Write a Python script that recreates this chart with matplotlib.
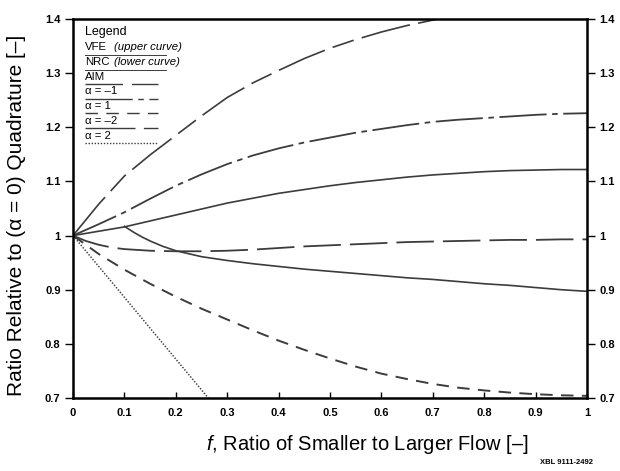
import matplotlib
matplotlib.use('Agg')
import matplotlib.pyplot as plt
from matplotlib.ticker import FormatStrFormatter

plt.rcParams['font.family'] = ['Liberation Sans', 'DejaVu Sans']
plt.rcParams['lines.scale_dashes'] = False
plt.rcParams['mathtext.fontset'] = 'custom'
plt.rcParams['mathtext.it'] = 'Liberation Sans:italic'
plt.rcParams['mathtext.rm'] = 'Liberation Sans'

# values
f_vfe = [0, 0.05, 0.1, 0.15, 0.2, 0.25, 0.3, 0.35, 0.4, 0.45, 0.5, 0.55, 0.6,
         0.65, 0.7, 0.75, 0.8, 0.85, 0.9, 0.95, 1.0]
vfe = [1.0, 1.008, 1.016, 1.027, 1.038, 1.049, 1.06, 1.069, 1.078, 1.085, 1.092,
       1.098, 1.103, 1.108, 1.112, 1.115, 1.118, 1.12, 1.121, 1.122, 1.122]

f_nrc = [0.1, 0.11, 0.12, 0.135, 0.15, 0.175, 0.2, 0.25, 0.3, 0.35, 0.4, 0.45,
         0.5, 0.55, 0.6, 0.65, 0.7, 0.75, 0.8, 0.85, 0.9, 0.95, 1.0]
nrc = [1.017, 1.011, 1.005, 0.997, 0.99, 0.98, 0.972, 0.961, 0.954, 0.948, 0.943,
       0.938, 0.934, 0.93, 0.926, 0.922, 0.919, 0.915, 0.911, 0.908, 0.904, 0.9, 0.897]

f_aim = [0, 0.025, 0.05, 0.075, 0.1, 0.15, 0.2, 0.25, 0.3, 0.35, 0.4, 0.45, 0.5,
         0.55, 0.6, 0.65, 0.7, 0.75, 0.8, 0.85, 0.9, 0.95, 1.0]
aim = [1.0, 0.99, 0.983, 0.978, 0.975, 0.972, 0.971, 0.971, 0.972, 0.974, 0.977,
       0.98, 0.982, 0.984, 0.986, 0.988, 0.989, 0.99, 0.991, 0.992, 0.992, 0.993, 0.993]

f_am1 = [0, 0.05, 0.1, 0.15, 0.2, 0.25, 0.3, 0.35, 0.4, 0.45, 0.5, 0.55, 0.6,
         0.65, 0.7, 0.75, 0.8, 0.85, 0.9, 0.95, 1.0]
am1 = [1.0, 1.021, 1.043, 1.068, 1.092, 1.113, 1.132, 1.148, 1.161, 1.172, 1.181,
       1.19, 1.197, 1.204, 1.21, 1.214, 1.217, 1.22, 1.223, 1.225, 1.226]

f_a1 = [0, 0.05, 0.1, 0.15, 0.2, 0.25, 0.3, 0.35, 0.4, 0.45, 0.5, 0.55, 0.6,
        0.65, 0.7, 0.75, 0.8, 0.85, 0.9, 0.95, 1.0]
a1 = [1.0, 0.966, 0.937, 0.911, 0.887, 0.865, 0.845, 0.825, 0.806, 0.789, 0.773,
      0.758, 0.745, 0.735, 0.726, 0.719, 0.714, 0.71, 0.707, 0.705, 0.704]

f_am2 = [0, 0.05, 0.1, 0.15, 0.2, 0.25, 0.3, 0.35, 0.4, 0.45, 0.5, 0.55, 0.6,
         0.65, 0.7, 0.75]
am2 = [1.0, 1.058, 1.11, 1.149, 1.185, 1.221, 1.255, 1.282, 1.305, 1.327, 1.346,
       1.362, 1.376, 1.388, 1.398, 1.407]

f_a2 = [0, 0.05, 0.1, 0.15, 0.2, 0.25, 0.27]
a2 = [1.0, 0.943, 0.886, 0.829, 0.772, 0.715, 0.692]

xticks = [0, 0.1, 0.2, 0.3, 0.4, 0.5, 0.6, 0.7, 0.8, 0.9, 1.0]
yticks = [0.7, 0.8, 0.9, 1.0, 1.1, 1.2, 1.3, 1.4]

lc = '#3c3c3c'
st_aim = (0, (27, 6.5))
st_am1 = (0, (34, 4, 4, 4))
st_a1 = (0, (9, 6))
st_am2 = (0, (36, 6, 16, 6))
st_a2 = (0, (1, 1.2))

fig = plt.figure(figsize=(6.2, 4.71), dpi=100)
ax = fig.add_axes([73/620, 73/471, 514/620, 379/471])

ax.plot(f_vfe, vfe, color=lc, lw=1.2)
ax.plot(f_nrc, nrc, color=lc, lw=1.2)
ax.plot(f_aim, aim, color=lc, lw=1.3, linestyle=st_aim)
ax.plot(f_am1, am1, color=lc, lw=1.3, linestyle=st_am1)
ax.plot(f_a1, a1, color=lc, lw=1.4, linestyle=st_a1)
ax.plot(f_am2, am2, color=lc, lw=1.2, linestyle=st_am2)
ax.plot(f_a2, a2, color=lc, lw=1.1, linestyle=st_a2)

ax.set_xlim(0, 1)
ax.set_ylim(0.7, 1.4)
ax.set_xticks(xticks)
ax.set_yticks(yticks)
ax.xaxis.set_major_formatter(FormatStrFormatter('%g'))
ax.yaxis.set_major_formatter(FormatStrFormatter('%g'))
ax.yaxis.set_ticks_position('both')
ax.tick_params(axis='y', direction='out', length=6, width=1, labelright=True,
               labelsize=8, pad=3)
ax.tick_params(axis='x', direction='in', length=4, width=1, labelsize=8, pad=7)
for t in ax.xaxis.get_major_ticks():
    t.label1.set_fontweight('bold')
for t in ax.yaxis.get_major_ticks():
    t.label1.set_fontweight('bold')
    t.label2.set_fontweight('bold')
for sp in ax.spines.values():
    sp.set_linewidth(1.8)

# hand-drawn legend block
tr = ax.transAxes
ax.text(0.023, 0.966, 'Legend', transform=tr, fontsize=9, va='center')
entries = [
    ('VFE', '(upper curve)', 0.926),
    ('NRC', '(lower curve)', 0.887),
]
for name, sub, y in entries:
    ax.text(0.023, y, name, transform=tr, fontsize=8.2, va='center')
    ax.text(0.08, y, sub, transform=tr, fontsize=8.2, va='center', style='italic')
    ax.plot([0.023, 0.18], [y - 0.021, y - 0.021], transform=tr, color=lc, lw=0.7)

samples = [
    ('AIM', 0.847, st_aim),
    ('α = –1', 0.809, st_am1),
    ('α = 1', 0.770, st_a1),
    ('α = –2', 0.731, st_am2),
    ('α = 2', 0.692, st_a2),
]
for name, y, ls in samples:
    ax.text(0.023, y, name, transform=tr, fontsize=8.2, va='center')
    ax.plot([0.023, 0.166], [y - 0.019, y - 0.019], transform=tr, color=lc,
            lw=1.0, linestyle=ls)

fig.text(17/620, 1 - 215/471, 'Ratio Relative to (α = 0) Quadrature [–]',
         rotation=90, ha='center', va='center', fontsize=15)
fig.text(367/620, 1 - 444/471, '$f$, Ratio of Smaller to Larger Flow [–]',
         ha='center', va='center', fontsize=14.5)
fig.text(567/620, 1 - 463/471, 'XBL 9111-2492', ha='center', va='center',
         fontsize=5.5, weight='bold')

fig.savefig('out.png', dpi=100)
